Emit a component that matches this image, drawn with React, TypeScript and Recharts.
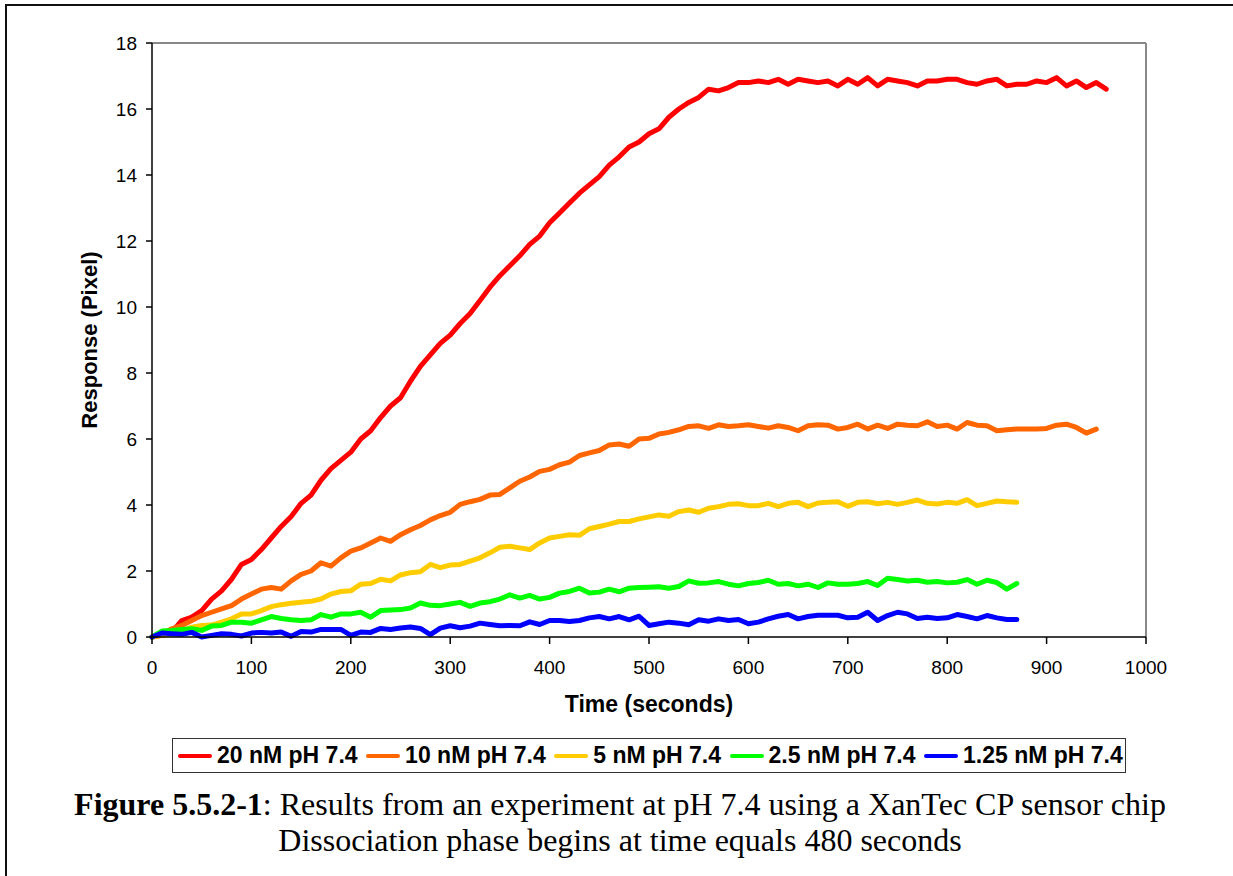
import React from "react";
import { LineChart, Line, XAxis, YAxis, ReferenceLine } from "recharts";

// sample times (seconds)
const times = [
  0, 10, 20, 30, 40, 50, 60, 70, 80, 90,
  100, 110, 120, 130, 140, 150, 160, 170, 180, 190,
  200, 210, 220, 230, 240, 250, 260, 270, 280, 290,
  300, 310, 320, 330, 340, 350, 360, 370, 380, 390,
  400, 410, 420, 430, 440, 450, 460, 470, 480, 490,
  500, 510, 520, 530, 540, 550, 560, 570, 580, 590,
  600, 610, 620, 630, 640, 650, 660, 670, 680, 690,
  700, 710, 720, 730, 740, 750, 760, 770, 780, 790,
  800, 810, 820, 830, 840, 850, 860, 870, 880, 890,
  900, 910, 920, 930, 940, 950, 960,
];

const nm20 = [
  0, 0.05, 0.15, 0.5, 0.6, 0.8, 1.15, 1.4, 1.75, 2.2,
  2.35, 2.65, 3.0, 3.35, 3.65, 4.05, 4.3, 4.75, 5.1, 5.35,
  5.6, 6.0, 6.25, 6.65, 7.0, 7.25, 7.75, 8.2, 8.55, 8.9,
  9.15, 9.5, 9.8, 10.2, 10.6, 10.95, 11.25, 11.55, 11.9, 12.15,
  12.55, 12.85, 13.15, 13.45, 13.7, 13.95, 14.3, 14.55, 14.85, 15.0,
  15.25, 15.4, 15.75, 16.0, 16.2, 16.35, 16.6, 16.55, 16.65, 16.8,
  16.8, 16.85, 16.8, 16.9, 16.75, 16.9, 16.85, 16.8, 16.85, 16.7,
  16.9, 16.75, 16.95, 16.7, 16.9, 16.85, 16.8, 16.7, 16.85, 16.85,
  16.9, 16.9, 16.8, 16.75, 16.85, 16.9, 16.7, 16.75, 16.75, 16.85,
  16.8, 16.95, 16.7, 16.85, 16.65, 16.8, 16.6,
];

const nm10 = [
  0, 0.1, 0.25, 0.35, 0.5, 0.65, 0.75, 0.85, 0.95, 1.15,
  1.3, 1.45, 1.5, 1.45, 1.7, 1.9, 2.0, 2.25, 2.15, 2.4,
  2.6, 2.7, 2.85, 3.0, 2.9, 3.1, 3.25, 3.38, 3.55, 3.68,
  3.78, 4.02, 4.1, 4.17, 4.3, 4.32, 4.52, 4.72, 4.85, 5.02,
  5.08, 5.22, 5.3, 5.5, 5.58, 5.65, 5.82, 5.85, 5.78, 6.0,
  6.02, 6.15, 6.2, 6.28, 6.38, 6.4, 6.32, 6.43, 6.38, 6.4,
  6.43, 6.38, 6.33, 6.4, 6.35, 6.25, 6.4, 6.43, 6.42, 6.3,
  6.35, 6.45, 6.3, 6.42, 6.32, 6.45, 6.42, 6.4, 6.52, 6.38,
  6.42, 6.3, 6.5, 6.42, 6.4, 6.25, 6.28, 6.3, 6.3, 6.3,
  6.32, 6.42, 6.45, 6.35, 6.18, 6.3,
];

const nm5 = [
  0, 0.05, 0.1, 0.18, 0.3, 0.35, 0.36, 0.45, 0.55, 0.7,
  0.7, 0.8, 0.92, 0.98, 1.02, 1.05, 1.08, 1.15, 1.3, 1.38,
  1.4, 1.6, 1.62, 1.75, 1.7, 1.88, 1.95, 1.98, 2.2, 2.1,
  2.18, 2.2, 2.3, 2.4, 2.55, 2.72, 2.75, 2.7, 2.65, 2.85,
  3.0, 3.05, 3.1, 3.08, 3.28, 3.35, 3.42, 3.5, 3.5, 3.58,
  3.64, 3.7, 3.66, 3.8, 3.85, 3.78, 3.9, 3.95, 4.02, 4.04,
  3.98, 3.98, 4.05, 3.95, 4.05, 4.08, 3.95, 4.06, 4.08, 4.1,
  3.96, 4.08, 4.1, 4.04, 4.08, 4.02, 4.08, 4.15, 4.05, 4.03,
  4.08, 4.05, 4.16, 3.98, 4.05, 4.12, 4.1, 4.08,
];

const nm2_5 = [
  0, 0.18, 0.2, 0.23, 0.25, 0.2, 0.33, 0.35, 0.45, 0.45,
  0.42, 0.52, 0.62, 0.56, 0.52, 0.5, 0.52, 0.68, 0.6, 0.7,
  0.7, 0.75, 0.6, 0.8, 0.82, 0.83, 0.88, 1.03, 0.96, 0.95,
  1.0, 1.05, 0.93, 1.03, 1.07, 1.15, 1.28, 1.18, 1.26, 1.15,
  1.2, 1.33, 1.38, 1.48, 1.33, 1.36, 1.45, 1.37, 1.48, 1.5,
  1.51, 1.52, 1.48, 1.53, 1.7, 1.63, 1.64, 1.68, 1.6, 1.55,
  1.62, 1.65, 1.72, 1.6, 1.62, 1.55, 1.6, 1.5, 1.64, 1.6,
  1.6, 1.62, 1.68, 1.56, 1.78, 1.74, 1.7, 1.72, 1.66, 1.68,
  1.64, 1.66, 1.74, 1.6, 1.72, 1.65, 1.45, 1.62,
];

const nm1_25 = [
  0, 0.12, 0.1, 0.08, 0.14, 0.0, 0.05, 0.1, 0.08, 0.03,
  0.12, 0.14, 0.12, 0.15, 0.02, 0.17, 0.15, 0.23, 0.23, 0.23,
  0.05, 0.15, 0.14, 0.26, 0.23, 0.27, 0.3, 0.26, 0.07, 0.27,
  0.34, 0.28, 0.33, 0.42, 0.38, 0.34, 0.35, 0.34, 0.46, 0.38,
  0.5, 0.5, 0.47, 0.5, 0.58, 0.62, 0.55, 0.62, 0.52, 0.63,
  0.35, 0.4, 0.45, 0.42, 0.37, 0.52, 0.48, 0.55, 0.5, 0.53,
  0.4, 0.45, 0.55, 0.63, 0.68, 0.55, 0.62, 0.66, 0.66, 0.66,
  0.58, 0.6, 0.75, 0.5, 0.65, 0.75, 0.7, 0.56, 0.6, 0.56,
  0.58, 0.68, 0.62, 0.55, 0.65, 0.58, 0.53, 0.53,
];

const xTicks = [0, 100, 200, 300, 400, 500, 600, 700, 800, 900, 1000];
const yTicks = [0, 2, 4, 6, 8, 10, 12, 14, 16, 18];

const series = [
  { key: "nm20", name: "20 nM pH 7.4", color: "#FF0000", values: nm20 },
  { key: "nm10", name: "10 nM pH 7.4", color: "#FF6600", values: nm10 },
  { key: "nm5", name: "5 nM pH 7.4", color: "#FFCC00", values: nm5 },
  { key: "nm2_5", name: "2.5 nM pH 7.4", color: "#00FF00", values: nm2_5 },
  { key: "nm1_25", name: "1.25 nM pH 7.4", color: "#0000FF", values: nm1_25 },
];

const data = times.map((t, i) => {
  const row: Record<string, number | undefined> = { t };
  series.forEach((s) => {
    row[s.key] = s.values[i];
  });
  return row;
});

const sans = "'Liberation Sans', Arial, sans-serif";
const serif = "'Liberation Serif', 'Times New Roman', serif";

export default function App() {
  return (
    <div
      style={{
        position: "absolute",
        left: 0,
        top: 0,
        width: 1233,
        height: 876,
        background: "#fff",
        overflow: "hidden",
        fontFamily: sans,
      }}
    >
      {/* page frame */}
      <div
        style={{
          position: "absolute",
          left: 5,
          top: 4,
          width: 1240,
          height: 900,
          borderLeft: "2px solid #111",
          borderTop: "2px solid #111",
        }}
      />

      <div style={{ position: "absolute", left: 0, top: 0 }}>
        <LineChart
          width={1233}
          height={720}
          data={data}
          margin={{ top: 43, right: 87, left: 72, bottom: 3 }}
        >
          <XAxis
            dataKey="t"
            type="number"
            domain={[0, 1000]}
            ticks={xTicks}
            height={80}
            tickSize={7}
            tickMargin={17}
            axisLine={{ stroke: "#000", strokeWidth: 1.5 }}
            tickLine={{ stroke: "#000", strokeWidth: 1.5 }}
            tick={{ fill: "#000", fontSize: 19, fontFamily: sans }}
            label={{
              value: "Time (seconds)",
              position: "insideBottom",
              offset: 5,
              style: { fill: "#000", fontSize: 23, fontWeight: 700, fontFamily: sans },
            }}
          />
          <YAxis
            type="number"
            domain={[0, 18]}
            ticks={yTicks}
            width={80}
            tickSize={6}
            tickMargin={9}
            axisLine={{ stroke: "#000", strokeWidth: 1.5 }}
            tickLine={{ stroke: "#000", strokeWidth: 1.5 }}
            tick={{ fill: "#000", fontSize: 19, fontFamily: sans }}
            label={{
              value: "Response (Pixel)",
              angle: -90,
              position: "insideLeft",
              offset: 17,
              style: {
                fill: "#000",
                fontSize: 22,
                fontWeight: 700,
                fontFamily: sans,
                textAnchor: "middle",
              },
            }}
          />
          {/* plot area outline, top and right */}
          <ReferenceLine y={18} stroke="#888" strokeWidth={2} ifOverflow="visible" />
          <ReferenceLine x={1000} stroke="#888" strokeWidth={2} ifOverflow="visible" />
          {series.map((s) => (
            <Line
              key={s.key}
              dataKey={s.key}
              name={s.name}
              type="linear"
              stroke={s.color}
              strokeWidth={5}
              strokeLinejoin="round"
              strokeLinecap="round"
              dot={false}
              activeDot={false}
              isAnimationActive={false}
            />
          ))}
        </LineChart>
      </div>

      {/* legend */}
      <div
        style={{
          position: "absolute",
          left: 172,
          top: 738,
          width: 954,
          height: 35,
          boxSizing: "border-box",
          border: "1px solid #333",
          display: "flex",
          alignItems: "center",
          paddingLeft: 5,
          gap: 8.5,
          fontFamily: sans,
          fontWeight: 700,
          fontSize: 23,
          color: "#000",
          whiteSpace: "nowrap",
        }}
      >
        {series.map((s) => (
          <div key={s.key} style={{ display: "flex", alignItems: "center" }}>
            <span
              style={{
                display: "inline-block",
                width: 34,
                height: 4,
                borderRadius: 2,
                background: s.color,
                marginRight: 5,
              }}
            />
            <span>{s.name}</span>
          </div>
        ))}
      </div>

      {/* caption */}
      <div
        style={{
          position: "absolute",
          left: 7,
          top: 786,
          width: 1226,
          textAlign: "center",
          fontFamily: serif,
          fontSize: 32,
          lineHeight: "36px",
          color: "#000",
        }}
      >
        <div>
          <b>Figure 5.5.2-1</b>: Results from an experiment at pH 7.4 using a XanTec CP sensor chip
        </div>
        <div>Dissociation phase begins at time equals 480 seconds</div>
      </div>
    </div>
  );
}
